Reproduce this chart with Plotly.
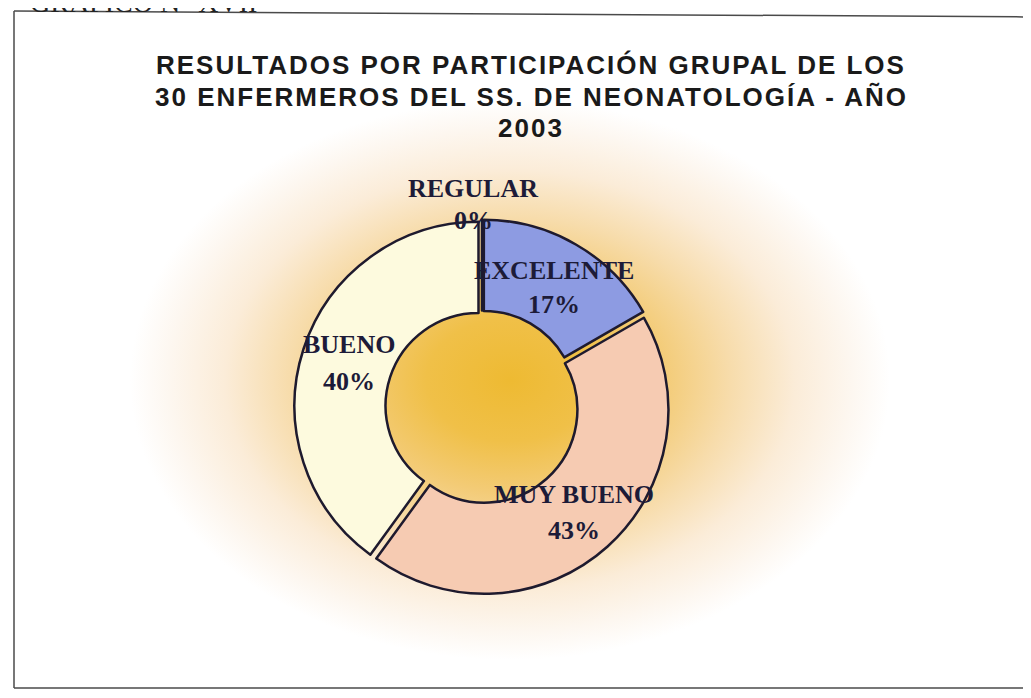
import base64
import plotly.graph_objects as go

# ---- data ----
categories = ["REGULAR", "EXCELENTE", "MUY BUENO", "BUENO"]
counts = [0, 5, 13, 12]          # 30 enfermeros
slice_colors = ["#f3e6b0", "#8d9be2", "#f6cbb2", "#fdfade"]
title_lines = ["RESULTADOS POR PARTICIPACIÓN GRUPAL DE LOS",
               "30 ENFERMEROS DEL SS. DE NEONATOLOGÍA - AÑO",
               "2003"]
header_text = "GRÁFICO N° XVII"

W, H = 1015, 682   # leaves room for the page's 8px body margin
OFF = 8

def px(x):
    return (x - OFF) / W

def py(y):
    return 1 - (y - OFF) / H

total = sum(counts)
percents = [round(100 * c / total) for c in counts]

# ---- background glow (styling) ----
gx, gy, grx, gry = 510 - OFF, 380 - OFF, 380, 280
svg = f'''<svg xmlns="http://www.w3.org/2000/svg" width="{W}" height="{H}" viewBox="0 0 {W} {H}">
<defs><radialGradient id="g" cx="50%" cy="50%" r="50%">
<stop offset="0" stop-color="#eeba32"/>
<stop offset="0.22" stop-color="#f0c048"/>
<stop offset="0.4" stop-color="#f3cb76"/>
<stop offset="0.58" stop-color="#f7dcab"/>
<stop offset="0.75" stop-color="#fbecd8"/>
<stop offset="0.9" stop-color="#fdf7f0"/>
<stop offset="1" stop-color="#ffffff"/>
</radialGradient></defs>
<rect x="0" y="0" width="{W}" height="{H}" fill="#ffffff"/>
<rect x="{gx - grx}" y="{gy - gry}" width="{2 * grx}" height="{2 * gry}" fill="url(#g)"/>
</svg>'''
bg_uri = "data:image/svg+xml;base64," + base64.b64encode(svg.encode()).decode()

# pie geometry (viewport pixels)
cx, cy, R, pull = 482, 407, 184, 0.02
half = R * (1 + pull)

fig = go.Figure(go.Pie(
    labels=categories,
    values=counts,
    hole=0.505,
    sort=False,
    direction="clockwise",
    rotation=0,
    pull=[pull] * len(counts),
    marker=dict(colors=slice_colors, line=dict(color="#1e1a2e", width=2.5)),
    textinfo="none",
    hoverinfo="label+percent",
    showlegend=False,
    domain=dict(x=[px(cx - half), px(cx + half)], y=[py(cy + half), py(cy - half)]),
))

# label positions (pixel styling constants)
label_pos = {
    "REGULAR": (473, 188, 221),
    "EXCELENTE": (554, 270, 304),
    "MUY BUENO": (574, 494, 530),
    "BUENO": (349, 344, 381),
}
label_font = dict(family="Liberation Serif", size=26, color="#1d1b38")
annotations = []
for cat, pct in zip(categories, percents):
    x, y1, y2 = label_pos[cat]
    annotations.append(dict(x=px(x), y=py(y1), xref="paper", yref="paper", text=f"<b>{cat}</b>",
                            showarrow=False, font=label_font, xanchor="center", yanchor="middle"))
    annotations.append(dict(x=px(x), y=py(y2), xref="paper", yref="paper", text=f"<b>{pct}%</b>",
                            showarrow=False, font=label_font, xanchor="center", yanchor="middle"))

# title lines
title_y = [65, 97, 128]
for line, y in zip(title_lines, title_y):
    annotations.append(dict(x=px(531), y=py(y), xref="paper", yref="paper",
                            text=f'<span style="letter-spacing:2px"><b>{line}</b></span>',
                            showarrow=False, xanchor="center", yanchor="middle",
                            font=dict(family="Liberation Sans", size=26, color="#1a1a1a")))

# header cut off at top (as in the scanned page)
annotations.append(dict(x=px(28), y=py(2), xref="paper", yref="paper", text=header_text,
                        showarrow=False, xanchor="left", yanchor="middle",
                        font=dict(family="Liberation Serif", size=28, color="#222222")))

border = dict(color="#4a4a4a", width=1.5)
fig.update_layout(
    width=W, height=H,
    margin=dict(l=0, r=0, t=0, b=0),
    paper_bgcolor="#ffffff",
    plot_bgcolor="#ffffff",
    images=[dict(source=bg_uri, xref="paper", yref="paper", x=0, y=1, sizex=1, sizey=1,
                 sizing="stretch", xanchor="left", yanchor="top", layer="below")],
    shapes=[
        dict(type="line", xref="paper", yref="paper", x0=px(14), x1=px(1040), y0=py(11), y1=py(17), line=border),
        dict(type="line", xref="paper", yref="paper", x0=px(14), x1=px(14), y0=py(11), y1=py(688), line=border),
        dict(type="line", xref="paper", yref="paper", x0=px(14), x1=px(1040), y0=py(688), y1=py(688), line=border),
    ],
    annotations=annotations,
)

fig.write_html("out.html")
